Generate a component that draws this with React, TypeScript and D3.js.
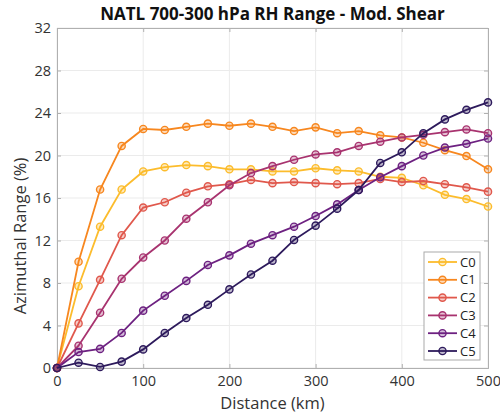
import { useRef, useEffect } from 'react'
import * as d3 from 'd3'

// distance from centre (km)
const distances = [0, 25, 50, 75, 100, 125, 150, 175, 200, 225, 250, 275, 300, 325, 350, 375, 400, 425, 450, 475, 500]

const seriesNames = ['C0', 'C1', 'C2', 'C3', 'C4', 'C5']
const seriesColors = ['#fcbc2c', '#f7871f', '#e0584c', '#a8336f', '#6d2181', '#2d1a5c']

const c0 = [0, 7.7, 13.3, 16.8, 18.5, 18.9, 19.1, 19.0, 18.7, 18.7, 18.5, 18.5, 18.8, 18.6, 18.5, 18.0, 17.9, 17.2, 16.3, 15.9, 15.2]
const c1 = [0, 10.0, 16.8, 20.9, 22.5, 22.4, 22.7, 23.0, 22.8, 23.0, 22.7, 22.3, 22.65, 22.1, 22.3, 21.9, 21.7, 21.2, 20.5, 19.95, 18.7]
const c2 = [0, 4.2, 8.3, 12.5, 15.1, 15.6, 16.5, 17.1, 17.3, 17.7, 17.4, 17.5, 17.4, 17.3, 17.4, 17.8, 17.5, 17.6, 17.3, 17.0, 16.6]
const c3 = [0, 2.1, 5.2, 8.4, 10.4, 12.0, 14.05, 15.6, 17.2, 18.35, 19.0, 19.6, 20.1, 20.3, 20.9, 21.3, 21.7, 21.95, 22.2, 22.45, 22.1]
const c4 = [0, 1.5, 1.8, 3.3, 5.4, 6.8, 8.2, 9.7, 10.6, 11.7, 12.5, 13.3, 14.3, 15.4, 16.75, 17.95, 19.0, 20.0, 20.75, 21.1, 21.6]
const c5 = [0, 0.5, 0.1, 0.6, 1.75, 3.3, 4.7, 5.95, 7.4, 8.8, 10.1, 12.05, 13.4, 15.0, 16.75, 19.3, 20.3, 22.1, 23.4, 24.3, 25.0]

const allSeries = [c0, c1, c2, c3, c4, c5]

const xTicks = [0, 100, 200, 300, 400, 500]
const yTicks = [0, 4, 8, 12, 16, 20, 24, 28, 32]

const W = 500
const H = 415
const FONT = '"Open Sans", "Noto Sans", sans-serif'

function RangeChart() {
  const svgRef = useRef<SVGSVGElement>(null)

  useEffect(() => {
    if (!svgRef.current) return
    const svg = d3.select(svgRef.current)
    svg.selectAll('*').remove()

    const margin = { top: 28, right: 12, bottom: 47, left: 57 }
    const innerW = W - margin.left - margin.right
    const innerH = H - margin.top - margin.bottom

    const x = d3.scaleLinear().domain([0, 500]).range([0, innerW])
    const y = d3.scaleLinear().domain([0, 32]).range([innerH, 0])

    const g = svg.append('g').attr('transform', `translate(${margin.left},${margin.top})`)

    // grid
    g.selectAll('.vgrid')
      .data(xTicks)
      .join('line')
      .attr('x1', d => x(d)).attr('x2', d => x(d))
      .attr('y1', 0).attr('y2', innerH)
      .attr('stroke', '#ebebeb').attr('stroke-width', 1)

    g.selectAll('.hgrid')
      .data(yTicks)
      .join('line')
      .attr('x1', 0).attr('x2', innerW)
      .attr('y1', d => y(d)).attr('y2', d => y(d))
      .attr('stroke', '#ebebeb').attr('stroke-width', 1)

    // axes with inward ticks
    const xAxis = d3.axisBottom(x).tickValues(xTicks).tickSize(-4).tickPadding(8)
    const yAxis = d3.axisLeft(y).tickValues(yTicks).tickSize(-4).tickPadding(6)

    const gx = g.append('g').attr('transform', `translate(0,${innerH})`).call(xAxis)
    const gy = g.append('g').call(yAxis)
    g.append('g').call(d3.axisTop(x).tickValues(xTicks).tickSize(-4).tickFormat(() => ''))
    g.append('g').attr('transform', `translate(${innerW},0)`)
      .call(d3.axisRight(y).tickValues(yTicks).tickSize(-4).tickFormat(() => ''))

    svg.selectAll('.domain').attr('stroke', '#b0b0b0')
    svg.selectAll('.tick line').attr('stroke', '#b0b0b0')
    ;[gx, gy].forEach(a => a.selectAll('text')
      .attr('font-family', FONT).attr('font-size', 14.5).attr('fill', '#333'))

    // lines and markers
    const line = d3.line<number>()
      .x((_, i) => x(distances[i]))
      .y(d => y(d))

    allSeries.forEach((vals, k) => {
      const col = seriesColors[k]
      g.append('path')
        .datum(vals)
        .attr('d', line)
        .attr('fill', 'none')
        .attr('stroke', col)
        .attr('stroke-width', 1.8)

      g.selectAll(`.m${k}`)
        .data(vals)
        .join('circle')
        .attr('cx', (_, i) => x(distances[i]))
        .attr('cy', d => y(d))
        .attr('r', 3.6)
        .attr('fill', col)
        .attr('fill-opacity', 0.3)
        .attr('stroke', col)
        .attr('stroke-width', 1.4)
    })

    // legend
    const lg = svg.append('g').attr('transform', 'translate(424,252)')
    lg.append('rect')
      .attr('width', 56).attr('height', 108)
      .attr('fill', 'white').attr('stroke', '#aaa').attr('stroke-width', 1)
    seriesNames.forEach((name, k) => {
      const yy = 10 + k * 17.8
      lg.append('line')
        .attr('x1', 4).attr('x2', 33).attr('y1', yy).attr('y2', yy)
        .attr('stroke', seriesColors[k]).attr('stroke-width', 1.8)
      lg.append('circle')
        .attr('cx', 18.5).attr('cy', yy).attr('r', 3.6)
        .attr('fill', seriesColors[k]).attr('fill-opacity', 0.3)
        .attr('stroke', seriesColors[k]).attr('stroke-width', 1.4)
      lg.append('text')
        .attr('x', 36).attr('y', yy).attr('dy', '0.35em')
        .attr('font-family', FONT).attr('font-size', 13).attr('fill', '#222')
        .text(name)
    })

    // title and axis labels
    svg.append('text')
      .attr('x', margin.left + innerW / 2).attr('y', 20)
      .attr('text-anchor', 'middle')
      .attr('font-family', FONT).attr('font-size', 17).attr('font-weight', 'bold').attr('fill', '#111')
      .text('NATL 700-300 hPa RH Range - Mod. Shear')

    svg.append('text')
      .attr('x', margin.left + innerW / 2).attr('y', 409)
      .attr('text-anchor', 'middle')
      .attr('font-family', FONT).attr('font-size', 16.5).attr('fill', '#333')
      .text('Distance (km)')

    svg.append('text')
      .attr('transform', `translate(26,${margin.top + innerH / 2 + 38}) rotate(-90)`)
      .attr('text-anchor', 'middle')
      .attr('font-family', FONT).attr('font-size', 16.5).attr('fill', '#333')
      .text('Azimuthal Range (%)')
  }, [])

  return <svg ref={svgRef} width={W} height={H} style={{ display: 'block' }} />
}

export default function App() {
  return (
    <div style={{ position: 'absolute', left: 0, top: 0, background: 'white' }}>
      <RangeChart />
    </div>
  )
}
